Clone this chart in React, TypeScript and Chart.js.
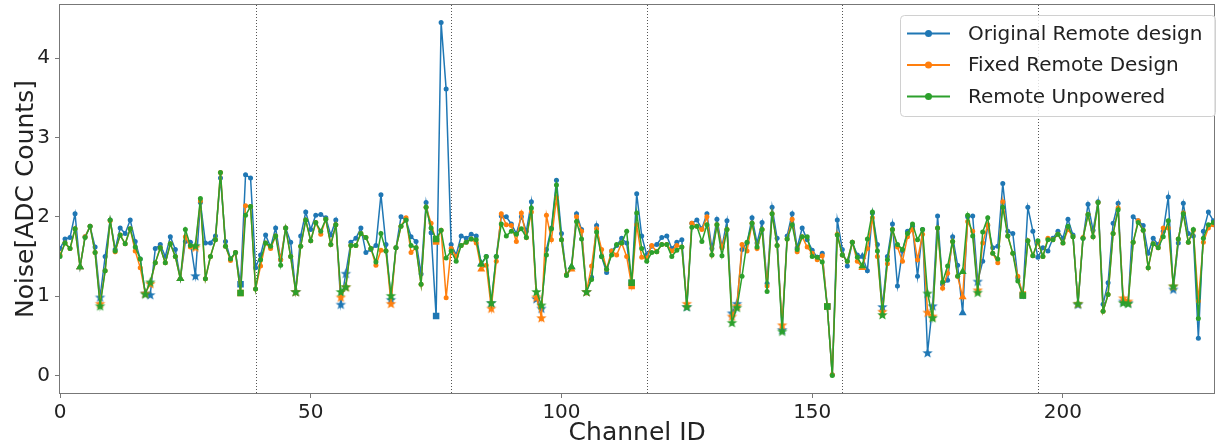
import React, { useEffect, useRef } from 'react';
import { Chart, registerables } from 'chart.js';
Chart.register(...registerables);

const FONT = '"DejaVu Sans", "Liberation Sans", sans-serif';

const seriesNames = ['Original Remote design', 'Fixed Remote Design', 'Remote Unpowered'];
const seriesColors = ['#1f77b4', '#ff7f0e', '#2ca02c'];

const originalRemote = [
  1.60,1.72,1.74,2.04,1.37,1.75,1.88,1.62,0.99,1.50,
  1.96,1.59,1.86,1.79,1.96,1.69,1.47,1.04,1.02,1.60,
  1.65,1.50,1.75,1.59,1.22,1.69,1.68,1.26,2.18,1.67,
  1.67,1.76,2.49,1.69,1.47,1.55,1.15,2.53,2.49,1.36,
  1.52,1.77,1.62,1.86,1.46,1.86,1.68,1.06,1.76,2.06,
  1.84,2.02,2.03,1.99,1.77,1.96,0.90,1.29,1.68,1.73,
  1.86,1.55,1.59,1.64,2.28,1.65,0.96,1.61,2.00,1.96,
  1.75,1.69,1.28,2.18,1.80,0.75,4.45,3.61,1.65,1.52,
  1.76,1.73,1.78,1.76,1.41,1.50,0.92,1.50,2.01,2.00,
  1.91,1.79,2.00,1.82,2.19,0.97,0.85,1.59,1.86,2.46,
  1.79,1.27,1.37,2.04,1.84,1.06,1.24,1.89,1.50,1.30,
  1.57,1.64,1.73,1.67,1.17,2.29,1.76,1.52,1.63,1.65,
  1.74,1.76,1.60,1.68,1.71,0.87,1.92,1.96,1.85,2.04,
  1.60,1.97,1.62,1.95,0.79,0.91,1.59,1.67,1.99,1.67,
  1.93,1.16,2.12,1.73,0.58,1.76,2.04,1.61,1.86,1.71,
  1.58,1.49,1.54,0.87,0.01,1.96,1.59,1.38,1.68,1.52,
  1.50,1.32,2.05,1.65,0.87,1.50,1.91,1.13,1.57,1.82,
  1.88,1.25,1.84,0.29,0.88,2.01,1.15,1.20,1.75,1.39,
  0.79,2.00,2.01,1.19,1.44,1.89,1.61,1.63,2.42,1.82,
  1.79,1.23,1.01,2.12,1.82,1.49,1.61,1.57,1.73,1.82,
  1.73,1.97,1.77,0.90,1.73,2.16,1.83,2.19,0.90,1.17,
  1.92,2.17,0.94,0.92,2.00,1.95,1.89,1.54,1.73,1.65,
  1.82,2.25,1.09,1.67,2.17,1.79,1.76,0.47,1.82,2.06,
  1.95,1.90,
];

const fixedRemote = [
  1.52,1.67,1.60,1.85,1.37,1.75,1.88,1.55,0.91,1.32,
  1.95,1.56,1.77,1.66,1.85,1.57,1.36,1.04,1.16,1.42,
  1.61,1.42,1.66,1.50,1.22,1.75,1.62,1.62,2.20,1.22,
  1.50,1.71,2.56,1.63,1.45,1.55,1.04,2.14,2.13,1.09,
  1.38,1.67,1.60,1.76,1.46,1.86,1.50,1.06,1.63,1.96,
  1.70,1.93,1.78,1.97,1.65,1.90,0.99,1.12,1.64,1.64,
  1.79,1.74,1.60,1.39,1.58,1.57,0.91,1.61,1.88,1.99,
  1.55,1.61,1.15,2.12,1.92,1.69,1.83,0.98,1.60,1.50,
  1.64,1.68,1.72,1.67,1.34,1.39,0.85,1.44,2.04,1.90,
  1.89,1.69,2.05,1.74,2.06,0.99,0.73,2.02,1.71,2.24,
  1.71,1.27,1.34,2.00,1.82,1.06,1.38,1.85,1.59,1.34,
  1.57,1.52,1.67,1.50,1.13,1.90,1.49,1.48,1.64,1.56,
  1.65,1.65,1.57,1.64,1.62,0.91,1.92,1.88,1.84,2.00,
  1.52,1.90,1.61,1.84,0.75,0.88,1.65,1.57,1.92,1.60,
  1.84,1.13,2.04,1.64,0.64,1.72,1.97,1.56,1.75,1.62,
  1.54,1.46,1.51,0.87,0.01,1.78,1.52,1.44,1.68,1.44,
  1.36,1.60,1.99,1.50,0.81,1.41,1.84,1.62,1.44,1.75,
  1.84,1.46,1.78,0.80,0.75,1.86,1.10,1.29,1.69,1.25,
  0.99,1.94,1.82,1.08,1.67,1.90,1.54,1.42,2.19,1.76,
  1.54,1.25,1.02,1.70,1.51,1.68,1.50,1.73,1.71,1.78,
  1.67,1.84,1.75,0.91,1.74,2.03,1.75,2.18,0.81,1.02,
  1.79,2.11,0.98,0.94,1.68,1.95,1.83,1.36,1.66,1.61,
  1.86,1.86,1.13,1.72,2.05,1.68,1.83,0.94,1.68,1.86,
  1.90,1.88,
];

const remoteUnpowered = [
  1.50,1.67,1.60,1.85,1.37,1.74,1.88,1.55,0.88,1.32,
  1.96,1.57,1.77,1.66,1.85,1.62,1.47,1.03,1.18,1.42,
  1.61,1.42,1.66,1.50,1.22,1.84,1.64,1.64,2.23,1.22,
  1.50,1.71,2.56,1.63,1.47,1.55,1.04,2.02,2.13,1.09,
  1.46,1.67,1.63,1.76,1.39,1.86,1.50,1.06,1.63,1.96,
  1.70,1.93,1.82,1.97,1.65,1.90,1.06,1.12,1.64,1.64,
  1.79,1.74,1.60,1.43,1.79,1.57,1.01,1.61,1.88,1.96,
  1.64,1.61,1.15,2.12,1.86,1.72,1.83,1.48,1.57,1.44,
  1.64,1.68,1.72,1.71,1.40,1.50,0.92,1.50,1.91,1.76,
  1.82,1.78,1.85,1.74,2.11,1.06,0.89,1.52,1.85,2.40,
  1.71,1.26,1.37,1.94,1.72,1.06,1.21,1.81,1.50,1.34,
  1.52,1.65,1.67,1.82,1.17,2.05,1.60,1.44,1.55,1.56,
  1.65,1.65,1.50,1.58,1.62,0.87,1.87,1.88,1.69,1.90,
  1.52,1.90,1.51,1.84,0.67,0.86,1.25,1.68,1.92,1.62,
  1.84,1.06,2.04,1.64,0.56,1.72,1.90,1.59,1.75,1.75,
  1.50,1.49,1.43,0.87,0.00,1.77,1.52,1.44,1.68,1.49,
  1.38,1.72,2.06,1.57,0.77,1.46,1.84,1.65,1.59,1.79,
  1.91,1.71,1.84,1.04,0.73,1.86,1.18,1.38,1.69,1.25,
  1.31,2.02,1.76,1.05,1.81,1.99,1.54,1.47,2.12,1.76,
  1.54,1.19,1.01,1.70,1.51,1.70,1.50,1.71,1.71,1.78,
  1.67,1.88,1.75,0.91,1.73,2.03,1.75,2.18,0.81,1.02,
  1.79,2.09,0.92,0.91,1.68,1.93,1.83,1.36,1.66,1.61,
  1.75,1.95,1.13,1.72,2.04,1.68,1.84,0.72,1.73,1.90,
  1.93,1.88,
];

const channelIds = originalRemote.map((_, i) => i);

const starChannels = [8,17,18,27,47,56,57,66,86,95,96,105,125,134,135,144,164,173,174,183,203,212,213,222];
const triangleChannels = [4,24,84,102,160,180];
const squareChannels = [36,75,114,153,192,231];
const dividerChannels = [39,78,117,156,195];
const xTicks = [0,50,100,150,200];
const yTicks = [0,1,2,3,4];

const X_MIN = 0;
const X_MAX = 230.2;
const Y_MIN = -0.22;
const Y_MAX = 4.67;

function markerOf(i: number): string {
  if (starChannels.includes(i)) return 'star';
  if (triangleChannels.includes(i)) return 'tri';
  if (squareChannels.includes(i)) return 'sq';
  return 'circle';
}

function makeStar(color: string, r: number): HTMLCanvasElement {
  const c = document.createElement('canvas');
  const s = Math.ceil(r * 2) + 2;
  c.width = s;
  c.height = s;
  const g = c.getContext('2d')!;
  g.fillStyle = color;
  g.beginPath();
  for (let k = 0; k < 10; k++) {
    const a = -Math.PI / 2 + (k * Math.PI) / 5;
    const rad = k % 2 === 0 ? r : r * 0.42;
    const px = s / 2 + rad * Math.cos(a);
    const py = s / 2 + 0.6 + rad * Math.sin(a);
    if (k === 0) g.moveTo(px, py); else g.lineTo(px, py);
  }
  g.closePath();
  g.fill();
  return c;
}

export default function App() {
  const ref = useRef<HTMLCanvasElement>(null);

  useEffect(() => {
    document.body.style.margin = '0';
    const canvas = ref.current!;
    const stars = seriesColors.map((c) => makeStar(c, 5.5));
    const allSeries = [originalRemote, fixedRemote, remoteUnpowered];

    const datasets = allSeries.map((vals, s) => ({
      label: seriesNames[s],
      order: allSeries.length - 1 - s,
      data: vals.map((v, i) => ({ x: channelIds[i], y: v })),
      borderColor: seriesColors[s],
      backgroundColor: seriesColors[s],
      borderWidth: 1.5,
      tension: 0,
      pointBorderWidth: 0,
      pointStyle: (c: any) => {
        const t = markerOf(c.dataIndex);
        if (t === 'star') return stars[s];
        if (t === 'tri') return 'triangle';
        if (t === 'sq') return 'rect';
        return 'circle';
      },
      pointRadius: (c: any) => (markerOf(c.dataIndex) === 'circle' ? 2.5 : 4.6),
    }));

    const framePlugin = {
      id: 'frame',
      beforeDatasetsDraw(chart: any) {
        const { ctx, chartArea } = chart;
        const xs = chart.scales.x;
        ctx.save();
        ctx.strokeStyle = '#555';
        ctx.lineWidth = 1;
        ctx.setLineDash([1, 2]);
        dividerChannels.forEach((d) => {
          const px = Math.round(xs.getPixelForValue(d)) + 0.5;
          ctx.beginPath();
          ctx.moveTo(px, chartArea.top);
          ctx.lineTo(px, chartArea.bottom);
          ctx.stroke();
        });
        ctx.restore();
      },
      afterDraw(chart: any) {
        const { ctx, chartArea } = chart;
        ctx.save();
        ctx.strokeStyle = '#777';
        ctx.lineWidth = 1;
        ctx.strokeRect(
          Math.round(chartArea.left) - 0.5,
          Math.round(chartArea.top) - 0.5,
          Math.round(chartArea.right - chartArea.left) + 1,
          Math.round(chartArea.bottom - chartArea.top) + 1
        );
        // legend
        const bx = 900.5, by = 15.5, bw = 315, bh = 101;
        ctx.beginPath();
        ctx.roundRect(bx, by, bw, bh, 4);
        ctx.fillStyle = 'rgba(255,255,255,0.8)';
        ctx.fill();
        ctx.strokeStyle = '#d0d0d0';
        ctx.stroke();
        const rows = [33.5, 65, 96.5];
        seriesNames.forEach((name, s) => {
          const y = rows[s];
          ctx.strokeStyle = seriesColors[s];
          ctx.lineWidth = 2;
          ctx.beginPath();
          ctx.moveTo(907, y);
          ctx.lineTo(950, y);
          ctx.stroke();
          ctx.fillStyle = seriesColors[s];
          ctx.beginPath();
          ctx.arc(928.5, y, 3.5, 0, Math.PI * 2);
          ctx.fill();
          ctx.fillStyle = '#222';
          ctx.font = `20px ${FONT}`;
          ctx.textBaseline = 'middle';
          ctx.textAlign = 'left';
          ctx.fillText(name, 968, y + 1);
        });
        ctx.restore();
      },
    };

    const chart = new Chart(canvas, {
      type: 'line',
      data: { datasets: datasets as any },
      options: {
        animation: false,
        responsive: false,
        events: [],
        layout: { padding: { top: 5, right: 2, left: 0, bottom: 0 } },
        plugins: { legend: { display: false }, tooltip: { enabled: false } },
        scales: {
          x: {
            type: 'linear',
            min: X_MIN,
            max: X_MAX,
            afterBuildTicks: (s: any) => { s.ticks = xTicks.map((v) => ({ value: v })); },
            afterFit: (s: any) => { s.height = 55; s.paddingLeft = 0; s.paddingRight = 0; },
            grid: { drawOnChartArea: false, drawTicks: true, tickLength: 5, color: '#777' },
            border: { display: false },
            ticks: { font: { family: FONT, size: 20 }, color: '#222', padding: 3, maxRotation: 0, autoSkip: false },
            title: { display: true, text: 'Channel ID', font: { family: FONT, size: 25 }, color: '#222', padding: { top: 0, bottom: 0 } },
          },
          y: {
            type: 'linear',
            min: Y_MIN,
            max: Y_MAX,
            afterBuildTicks: (s: any) => { s.ticks = yTicks.map((v) => ({ value: v })); },
            afterFit: (s: any) => { s.width = 60; s.paddingTop = 0; s.paddingBottom = 0; },
            grid: { drawOnChartArea: false, drawTicks: true, tickLength: 5, color: '#777' },
            border: { display: false },
            ticks: { font: { family: FONT, size: 20 }, color: '#222', padding: 5, autoSkip: false },
            title: { display: true, text: 'Noise[ADC Counts]', font: { family: FONT, size: 25 }, color: '#222', padding: { top: 11, bottom: 0 } },
          },
        },
      },
      plugins: [framePlugin],
    });
    return () => chart.destroy();
  }, []);

  return (
    <div style={{ width: 1219, height: 448 }}>
      <canvas ref={ref} width={1219} height={448} style={{ display: 'block' }} />
    </div>
  );
}
